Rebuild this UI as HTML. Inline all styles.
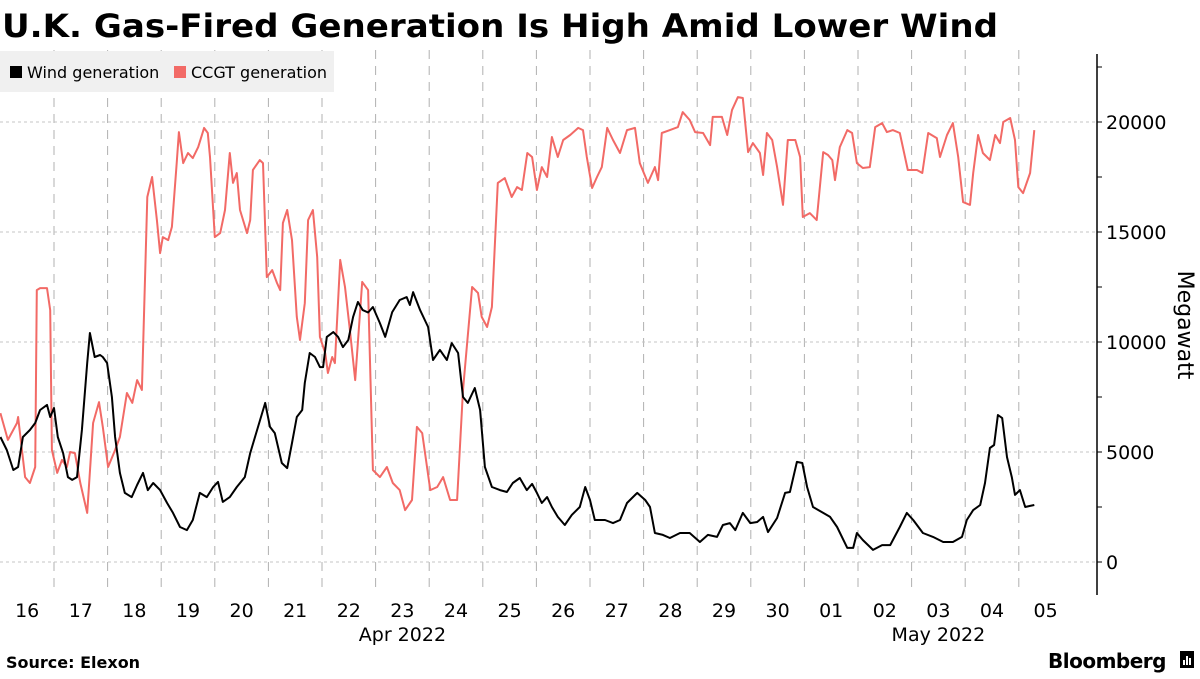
<!DOCTYPE html>
<html><head><meta charset="utf-8"><style>
body{margin:0;background:#fff;width:1200px;height:675px;overflow:hidden;font-family:"DejaVu Sans","Liberation Sans",sans-serif;}
svg text{font-family:"DejaVu Sans","Liberation Sans",sans-serif;}
</style></head><body>
<svg id="chart" width="1200" height="675" xmlns="http://www.w3.org/2000/svg">
<text x="2" y="37" font-size="32" font-weight="bold" fill="#000" textLength="996" lengthAdjust="spacingAndGlyphs">U.K. Gas-Fired Generation Is High Amid Lower Wind</text>
<g id="grid"></g>
<g>
<rect x="0" y="51" width="334" height="41" fill="#f0f0f0"/>
<g><rect x="10" y="66" width="12" height="12" fill="#000"/><text x="27" y="78" font-size="16" fill="#000">Wind generation</text></g>
<g><rect x="174" y="66" width="12" height="12" fill="#f26a66"/><text x="191" y="78" font-size="16" fill="#000">CCGT generation</text></g>
</g>
<g id="axes"></g>
<g id="series"></g>
<text transform="translate(1178,325) rotate(90)" text-anchor="middle" font-size="22" fill="#000">Megawatt</text>
<text x="6" y="668" font-size="16" font-weight="bold" fill="#000">Source: Elexon</text>
<text x="1048" y="668" font-size="20" font-weight="bold" fill="#000" letter-spacing="-0.5">Bloomberg</text>
<g><rect x="1180" y="651" width="14" height="17" fill="#000"/><rect x="1183" y="660" width="2" height="5" fill="#fff"/><rect x="1186" y="656" width="2" height="9" fill="#fff"/><rect x="1189" y="658" width="2" height="7" fill="#fff"/></g>
</svg>
<script>
const dayLabels=["16","17","18","19","20","21","22","23","24","25","26","27","28","29","30","01","02","03","04","05"];
const monthLabels=[{t:"Apr 2022",d:7.5},{t:"May 2022",d:17.5}];
const yTicks=[0,5000,10000,15000,20000];
const ccgtDays=[0.00,0.14,0.31,0.33,0.46,0.55,0.65,0.68,0.74,0.87,0.93,0.96,1.06,1.15,1.24,1.30,1.39,1.49,1.62,1.73,1.84,1.91,2.01,2.14,2.23,2.36,2.46,2.55,2.64,2.74,2.83,2.92,2.98,3.03,3.13,3.20,3.29,3.33,3.41,3.50,3.59,3.69,3.80,3.87,3.91,4.00,4.10,4.19,4.28,4.34,4.41,4.47,4.60,4.66,4.71,4.84,4.90,4.97,5.07,5.16,5.22,5.27,5.35,5.44,5.53,5.59,5.68,5.74,5.83,5.91,5.96,6.06,6.11,6.19,6.24,6.34,6.43,6.52,6.62,6.75,6.86,6.95,7.08,7.21,7.32,7.45,7.55,7.68,7.77,7.87,8.02,8.15,8.26,8.39,8.52,8.63,8.80,8.91,8.98,9.08,9.17,9.28,9.41,9.54,9.64,9.73,9.83,9.92,10.01,10.10,10.20,10.29,10.40,10.50,10.63,10.78,10.87,10.94,11.04,11.13,11.22,11.32,11.43,11.56,11.69,11.84,11.93,12.08,12.21,12.27,12.34,12.49,12.64,12.73,12.86,12.96,13.11,13.24,13.29,13.46,13.56,13.65,13.76,13.85,13.95,14.04,14.17,14.23,14.30,14.40,14.49,14.60,14.69,14.83,14.92,14.97,15.10,15.23,15.35,15.44,15.52,15.57,15.66,15.80,15.89,15.98,16.09,16.22,16.32,16.45,16.54,16.65,16.78,16.93,17.10,17.20,17.31,17.47,17.53,17.66,17.77,17.87,17.96,18.09,18.15,18.24,18.33,18.46,18.56,18.65,18.71,18.84,18.93,18.99,19.08,19.21,19.29];
const ccgtValues=[6770,5550,6320,6590,3860,3590,4320,12360,12450,12450,11450,5090,4050,4640,4320,5000,4950,3590,2230,6320,7270,6140,4320,5090,5680,7680,7230,8270,7820,16590,17500,15540,14040,14770,14630,15230,18130,19540,18130,18590,18360,18860,19730,19500,18410,14770,14950,16000,18590,17230,17680,16000,14950,15540,17820,18270,18130,12950,13270,12680,12360,15410,16000,14630,11140,10090,11770,15540,16000,13860,10230,9500,8590,9320,9040,13730,12500,10540,8270,12730,12360,4180,3860,4320,3590,3270,2360,2820,6140,5860,3270,3410,3860,2820,2820,7820,12500,12230,11140,10680,11590,17230,17450,16590,17040,16910,18590,18410,16910,17950,17500,19320,18410,19180,19410,19730,19630,18410,17000,17500,17950,19730,19180,18590,19630,19730,18130,17230,17950,17360,19500,19630,19770,20450,20090,19540,19500,18950,20230,20230,19410,20540,21130,21090,18630,19040,18590,17590,19500,19180,17950,16230,19180,19180,18410,15680,15860,15540,18630,18500,18270,17360,18860,19630,19500,18130,17910,17950,19770,19950,19540,19630,19500,17820,17820,17680,19500,19270,18410,19410,19950,18410,16360,16230,17680,19410,18590,18270,19410,19040,20000,20180,19180,17040,16770,17680,19630];
const windDays=[0.00,0.12,0.24,0.33,0.42,0.55,0.65,0.74,0.87,0.93,1.00,1.07,1.17,1.26,1.34,1.43,1.52,1.62,1.67,1.76,1.86,1.91,1.99,2.08,2.14,2.23,2.32,2.45,2.55,2.66,2.75,2.85,2.98,3.11,3.22,3.35,3.48,3.59,3.72,3.85,3.97,4.06,4.15,4.28,4.41,4.56,4.66,4.79,4.94,5.03,5.12,5.25,5.35,5.44,5.53,5.63,5.68,5.77,5.87,5.96,6.02,6.09,6.21,6.30,6.39,6.49,6.58,6.67,6.76,6.86,6.95,7.08,7.18,7.31,7.45,7.58,7.64,7.70,7.83,7.98,8.07,8.20,8.33,8.42,8.54,8.63,8.72,8.85,8.95,9.04,9.17,9.32,9.45,9.56,9.69,9.82,9.92,10.01,10.10,10.20,10.29,10.40,10.53,10.66,10.81,10.91,11.00,11.09,11.28,11.43,11.56,11.69,11.88,12.03,12.12,12.21,12.36,12.49,12.68,12.86,13.05,13.20,13.37,13.48,13.61,13.71,13.85,13.99,14.12,14.23,14.32,14.49,14.64,14.73,14.86,14.96,15.05,15.16,15.35,15.48,15.61,15.80,15.91,15.98,16.09,16.28,16.45,16.60,16.78,16.91,17.03,17.21,17.40,17.59,17.77,17.94,18.03,18.15,18.28,18.37,18.46,18.54,18.61,18.69,18.78,18.87,18.93,19.02,19.12,19.21,19.29];
const windValues=[5680,5090,4180,4320,5680,6000,6320,6910,7140,6590,7000,5680,4950,3860,3730,3860,6000,9040,10410,9320,9410,9320,9040,7500,5680,4050,3140,2950,3500,4050,3270,3590,3270,2680,2230,1590,1450,1910,3140,2950,3410,3640,2730,2950,3410,3860,4950,6000,7230,6140,5860,4500,4270,5410,6590,6910,8140,9500,9320,8860,8860,10230,10450,10230,9770,10090,11140,11820,11450,11340,11590,10860,10230,11360,11910,12040,11680,12270,11450,10680,9180,9640,9180,9950,9500,7500,7230,7910,6910,4320,3410,3270,3180,3590,3820,3270,3550,3140,2680,2950,2500,2050,1680,2140,2500,3410,2820,1910,1910,1770,1910,2680,3140,2820,2500,1320,1230,1090,1320,1320,910,1230,1140,1680,1770,1450,2230,1770,1820,2050,1360,2000,3140,3180,4550,4500,3410,2500,2230,2050,1590,640,640,1320,1000,550,770,770,1590,2230,1910,1320,1140,910,910,1140,1910,2360,2590,3590,5180,5320,6680,6540,4770,3860,3050,3270,2500,2550,2590];

const NS="http://www.w3.org/2000/svg";
const X0=0.4, DAYW=53.6, Y0=562, PXPER=0.022;
function xs(d){return X0+d*DAYW;}
function ys(v){return Y0-v*PXPER;}
function mk(tag,attrs,parent){const e=document.createElementNS(NS,tag);for(const k in attrs)e.setAttribute(k,attrs[k]);parent.appendChild(e);return e;}
const grid=document.getElementById('grid'),axes=document.getElementById('axes'),series=document.getElementById('series');
for(let i=0;i<dayLabels.length;i++){
  if(i>0){const l=mk('line',{x1:xs(i),x2:xs(i),y1:50,y2:592,stroke:'#b0b0b0','stroke-width':1,'stroke-dasharray':'9,7'},grid);
  
  }
  const t=mk('text',{x:xs(i)+DAYW/2,y:617,'text-anchor':'middle','font-size':19,fill:'#000'},axes);
  t.textContent=dayLabels[i];
  
  
}
monthLabels.forEach(m=>{const t=mk('text',{x:xs(m.d),y:641,'text-anchor':'middle','font-size':19,fill:'#000'},axes);
  t.textContent=m.t;
  
  });
const AX=1097;
const al=mk('line',{x1:AX,x2:AX,y1:54,y2:595,stroke:'#000','stroke-width':1.5},axes);


for(let v=0;v<=22500;v+=2500){
  const tk=mk('line',{x1:AX,x2:AX+5,y1:ys(v),y2:ys(v),stroke:'#000','stroke-width':1},axes);
  
  
}
yTicks.forEach(v=>{
  const g=mk('line',{x1:0,x2:AX,y1:ys(v),y2:ys(v),stroke:'#c4c4c4','stroke-width':1,'stroke-dasharray':'3,3'},grid);
  
  
  const t=mk('text',{x:1106,y:ys(v)+7,'font-size':19,fill:'#000'},axes);
  t.textContent=String(v);
  
  
});
function path(days,vals,color,name){
  const d=days.map((t,i)=>(i?'L':'M')+xs(t).toFixed(1)+','+ys(vals[i]).toFixed(1)).join('');
  const p=mk('path',{d:d,fill:'none',stroke:color,'stroke-width':2,'stroke-linejoin':'round'},series);
  
  
}
path(ccgtDays,ccgtValues,'#f26a66','ccgt-line');
path(windDays,windValues,'#000','wind-line');
</script>
</body></html>
